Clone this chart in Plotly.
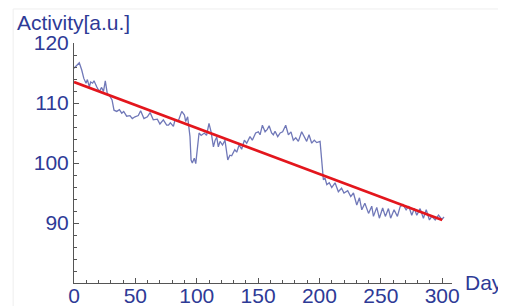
import plotly.graph_objects as go

# ---- data ----
days = [0, 2, 4.3, 6.3, 8, 9.8, 10.9, 12.5, 13.6, 15.2, 16.3, 18.5, 20.6, 22.5, 24, 25.5, 27.1,
        29.3, 31, 32.6, 34.8, 37, 38.9, 40.5, 42.9, 45.6, 47.5, 49.7, 52.4, 54.3, 57, 59.8, 62,
        64.6, 67.9, 70, 72.8, 75.5, 77, 78.5, 81, 82.3, 85, 87.8, 90, 91, 92.6, 94.5, 95.4,
        96.4, 98, 99.2, 100.8, 101.9, 103.6, 106.2, 108, 110, 111.7, 113.6, 115, 116.3, 117.6,
        119, 121, 123, 125.3, 127, 128.5, 131, 132.6, 134.5, 136.6, 138.8, 140.7, 143.4, 145.3,
        148, 150.2, 151.6, 153.5, 155.7, 157.5, 159, 161, 162.4, 163.8, 166, 168, 170, 172.5,
        174.7, 176.8, 178.7, 180.7, 182.8, 185.5, 187.7, 189.6, 191.5, 193.7, 195.8, 197.8,
        200.5, 201.8, 203.2, 204.5, 206, 208, 210, 212.7, 215.4, 218, 220, 223, 225.5, 227.7,
        230.4, 232.6, 234.5, 237, 240, 242.6, 244, 246.7, 248.8, 251.5, 253.7, 256.2, 258,
        260.8, 263.5, 265.7, 268, 270.6, 272.8, 275.2, 277.3, 279.3, 282, 284.7, 287, 289.6,
        291.5, 294.3, 297, 299.7, 301.5]
activity = [115.8, 116.2, 116.7, 115.5, 114.1, 113.3, 113.9, 112.7, 113.5, 113.3, 113.7, 112.7,
            111.9, 112.6, 111.9, 113.7, 111.6, 111.1, 110.5, 108.8, 108.6, 108.9, 108.3, 108.6,
            107.8, 107.9, 107.4, 107.7, 107.9, 108.7, 107.4, 107.7, 108.4, 107.2, 107.3, 106.5,
            107.2, 106.3, 106.3, 106.7, 106.1, 107.2, 107.0, 108.6, 108.0, 106.9, 107.7, 104.4,
            100.5, 100.0, 100.8, 99.9, 103.3, 105.0, 104.6, 105.0, 104.6, 106.6, 105.2, 102.7,
            103.8, 104.3, 102.7, 103.6, 103.0, 103.8, 100.5, 101.3, 101.2, 102.2, 101.8, 103.0,
            102.3, 103.8, 103.3, 104.4, 103.8, 105.0, 105.2, 104.7, 106.3, 105.2, 105.6, 106.2,
            105.0, 104.7, 105.3, 104.4, 105.0, 105.2, 106.3, 104.7, 105.2, 103.8, 104.2, 103.6,
            105.2, 104.4, 103.6, 104.7, 103.3, 103.8, 103.4, 103.6, 100.5, 97.2, 97.5, 96.4,
            96.7, 95.9, 96.7, 95.2, 95.8, 95.0, 95.4, 94.4, 95.0, 93.0, 94.2, 92.2, 93.3, 91.6,
            92.8, 91.1, 92.6, 90.8, 92.5, 91.1, 92.4, 90.8, 92.2, 91.1, 92.7, 93.1, 92.2, 92.8,
            91.3, 92.4, 91.3, 92.4, 90.8, 92.2, 90.5, 91.1, 90.5, 91.3, 90.6, 91.0]

trend_days = [0, 300]
trend_values = [113.5, 90.5]

x_tick_vals = [0, 50, 100, 150, 200, 250, 300]
y_tick_vals = [90, 100, 110, 120]

label_color = "#2E3A96"
axis_color = "#555555"
font_family = "Liberation Sans, Arial, sans-serif"

fig = go.Figure()
fig.add_trace(go.Scatter(x=days, y=activity, mode="lines",
                         line=dict(color="#7078B8", width=1.3), hoverinfo="skip"))
fig.add_trace(go.Scatter(x=trend_days, y=trend_values, mode="lines",
                         line=dict(color="#E3161D", width=2.6), hoverinfo="skip"))

# the page body adds an 8px offset, so the figure is 8px smaller on each axis
fig.update_layout(
    width=498, height=298,
    margin=dict(l=66, r=54, t=35, b=23, autoexpand=False),
    paper_bgcolor="white", plot_bgcolor="white",
    showlegend=False,
    font=dict(family=font_family, color=label_color, size=21),
    xaxis=dict(range=[0, 308], tickmode="array", tickvals=x_tick_vals,
               ticks="inside", ticklen=5, tickwidth=1, tickcolor=axis_color,
               showline=True, linecolor=axis_color, linewidth=1,
               showgrid=False, zeroline=False, automargin=False,
               ticklabelstandoff=-6,
               tickfont=dict(size=21, color=label_color),
               minor=dict(tickmode="linear", tick0=0, dtick=10, ticks="inside",
                          ticklen=3, tickcolor=axis_color, showgrid=False)),
    yaxis=dict(range=[80, 120], tickmode="array", tickvals=y_tick_vals,
               ticks="inside", ticklen=5, tickwidth=1, tickcolor=axis_color,
               showline=True, linecolor=axis_color, linewidth=1,
               showgrid=False, zeroline=False, automargin=False,
               tickfont=dict(size=21, color=label_color),
               minor=dict(tickmode="linear", tick0=80, dtick=2, ticks="inside",
                          ticklen=3, tickcolor=axis_color, showgrid=False)),
    annotations=[
        dict(text="Activity[a.u.]", xref="paper", yref="paper", x=-0.156, y=1.085,
             xanchor="left", yanchor="middle", showarrow=False,
             font=dict(size=21, color=label_color, family=font_family)),
        dict(text="Day", xref="paper", yref="paper", x=1.029, y=0.004,
             xanchor="left", yanchor="middle", showarrow=False,
             font=dict(size=21, color=label_color, family=font_family)),
    ],
    shapes=[dict(type="rect", xref="paper", yref="paper", x0=-0.161, x1=1.132,
                 y0=-0.2, y1=1.1417, line=dict(color="#EEEEEE", width=1),
                 layer="below")],
)

fig.write_html("out.html")
